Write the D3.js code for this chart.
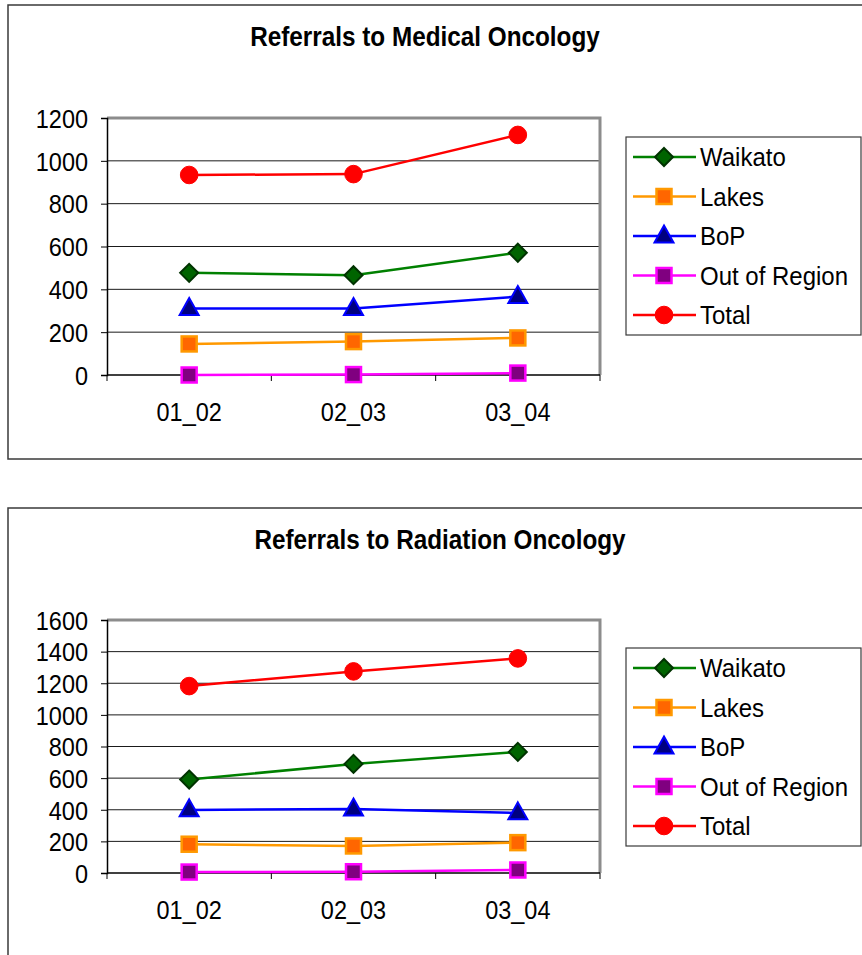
<!DOCTYPE html>
<html>
<head>
<meta charset="utf-8">
<script src="https://cdn.jsdelivr.net/npm/d3@7"></script>
<style>
  html, body { margin: 0; padding: 0; background: #fff; }
  svg { display: block; font-family: "Liberation Sans", Arial, sans-serif; }
</style>
</head>
<body>
<svg id="chart" width="862" height="955"></svg>
<script>
// Financial years on the category axis
const periods = ["01_02", "02_03", "03_04"];
const seriesNames = ["Waikato", "Lakes", "BoP", "Out of Region", "Total"];

// Referrals to Medical Oncology
const medWaikato = [477, 466, 571];
const medLakes = [145, 156, 173];
const medBoP = [310, 310, 366];
const medOut = [0, 2, 9];
const medTotal = [934, 938, 1121];
const medTicks = [0, 200, 400, 600, 800, 1000, 1200];

// Referrals to Radiation Oncology
const radWaikato = [591, 690, 766];
const radLakes = [182, 171, 192];
const radBoP = [399, 404, 380];
const radOut = [6, 8, 19];
const radTotal = [1182, 1275, 1357];
const radTicks = [0, 200, 400, 600, 800, 1000, 1200, 1400, 1600];

// Line and marker styling per series
const styles = {
  "Waikato":       { line: "#008000", fill: "#006400", stroke: "#003300", shape: "diamond" },
  "Lakes":         { line: "#FF9900", fill: "#FF6600", stroke: "#FF9900", shape: "square" },
  "BoP":           { line: "#0000FF", fill: "#000080", stroke: "#0000FF", shape: "triangle" },
  "Out of Region": { line: "#FF00FF", fill: "#800080", stroke: "#FF00FF", shape: "square" },
  "Total":         { line: "#FF0000", fill: "#FF0000", stroke: "#FF0000", shape: "circle" }
};

// Text is drawn slightly taller than wide, like the original chart renderer
const TEXT_STRETCH = 1.1;

const svg = d3.select("#chart");

function label(g, x, y, str, size, anchor, bold) {
  return g.append("text")
    .attr("transform", `translate(${x},${y}) scale(1,${TEXT_STRETCH})`)
    .attr("text-anchor", anchor)
    .attr("font-size", size)
    .attr("font-weight", bold ? "bold" : "normal")
    .attr("fill", "#000")
    .text(str);
}

function drawMarker(g, shape, cx, cy, st) {
  if (shape === "circle") {
    g.append("circle").attr("cx", cx).attr("cy", cy).attr("r", 8.8)
      .attr("fill", st.fill).attr("stroke", st.stroke).attr("stroke-width", 1);
  } else if (shape === "square") {
    g.append("rect").attr("x", cx - 7.5).attr("y", cy - 7.5).attr("width", 15).attr("height", 15)
      .attr("fill", st.fill).attr("stroke", st.stroke).attr("stroke-width", 2.5);
  } else if (shape === "diamond") {
    const r = 9;
    g.append("path").attr("d", `M${cx},${cy - r}L${cx + r},${cy}L${cx},${cy + r}L${cx - r},${cy}Z`)
      .attr("fill", st.fill).attr("stroke", st.stroke).attr("stroke-width", 2);
  } else if (shape === "triangle") {
    const h = 17, w = 19;
    g.append("path").attr("d", `M${cx},${cy - h * 0.62}L${cx + w / 2},${cy + h * 0.38}L${cx - w / 2},${cy + h * 0.38}Z`)
      .attr("fill", st.fill).attr("stroke", st.stroke).attr("stroke-width", 2);
  }
}

function drawChart(cfg) {
  const g = svg.append("g");

  // Chart frame (runs past the right and bottom of the page)
  g.append("rect")
    .attr("x", 8).attr("y", cfg.boxTop)
    .attr("width", 900).attr("height", cfg.boxHeight)
    .attr("fill", "#fff").attr("stroke", "#3a3a3a").attr("stroke-width", 1.5);

  label(g, cfg.titleX, cfg.boxTop + 41, cfg.title, 24.3, "middle", true);

  const left = 107, right = 600, top = cfg.plotTop, bottom = cfg.plotBottom;
  const x = d3.scaleBand().domain(periods).range([left, right]);
  const y = d3.scaleLinear().domain([0, d3.max(cfg.ticks)]).range([bottom, top]);

  // Horizontal gridlines
  g.append("g").selectAll("line")
    .data(cfg.ticks.slice(1, -1))
    .join("line")
    .attr("x1", left).attr("x2", right)
    .attr("y1", d => y(d)).attr("y2", d => y(d))
    .attr("stroke", "#1a1a1a").attr("stroke-width", 1);

  // Plot area top and right edges
  g.append("path")
    .attr("d", `M${left},${top}H${right}V${bottom}`)
    .attr("fill", "none").attr("stroke", "#8c8c8c").attr("stroke-width", 3);

  // Value axis
  const yAxis = d3.axisLeft(y).tickValues(cfg.ticks).tickSize(6).tickPadding(13).tickFormat(d3.format("d"));
  const ya = g.append("g").attr("transform", `translate(${left},0)`).call(yAxis);
  ya.select(".domain").attr("stroke", "#000").attr("stroke-width", 1.5);
  ya.selectAll(".tick line").attr("stroke", "#000").attr("stroke-width", 1);
  ya.selectAll(".tick text")
    .attr("font-size", 23.5).attr("font-family", "Liberation Sans, Arial, sans-serif")
    .attr("fill", "#000").attr("dy", "0.36em")
    .attr("transform", `scale(1,${TEXT_STRETCH})`);

  // Category axis with ticks between categories
  const boundaries = [left, ...periods.map(p => x(p) + x.bandwidth())];
  g.append("line").attr("x1", left).attr("x2", right).attr("y1", bottom).attr("y2", bottom)
    .attr("stroke", "#000").attr("stroke-width", 1.5);
  g.append("g").selectAll("line").data(boundaries).join("line")
    .attr("x1", d => d).attr("x2", d => d)
    .attr("y1", bottom).attr("y2", bottom + 6)
    .attr("stroke", "#000").attr("stroke-width", 1);
  const xl = g.append("g");
  periods.forEach(p => label(xl, x(p) + x.bandwidth() / 2, bottom + 46, p, 23.5, "middle", false));

  // Series lines and markers
  const line = d3.line()
    .x((d, i) => x(periods[i]) + x.bandwidth() / 2)
    .y(d => y(d));
  cfg.series.forEach((vals, si) => {
    const name = seriesNames[si];
    const st = styles[name];
    const sg = g.append("g");
    sg.append("path").datum(vals).attr("d", line)
      .attr("fill", "none").attr("stroke", st.line).attr("stroke-width", 2.5)
      .attr("stroke-linejoin", "round");
    vals.forEach((v, i) => drawMarker(sg, st.shape, x(periods[i]) + x.bandwidth() / 2, y(v), st));
  });

  // Legend
  const lg = g.append("g");
  lg.append("rect")
    .attr("x", 626).attr("y", cfg.legendTop)
    .attr("width", 235).attr("height", 198)
    .attr("fill", "#fff").attr("stroke", "#3a3a3a").attr("stroke-width", 1.2);
  seriesNames.forEach((name, i) => {
    const st = styles[name];
    const cy = cfg.legendTop + 20 + i * 39.5;
    lg.append("line").attr("x1", 633).attr("x2", 696).attr("y1", cy).attr("y2", cy)
      .attr("stroke", st.line).attr("stroke-width", 2.5);
    drawMarker(lg, st.shape, 664, cy, st);
    label(lg, 700, cy + 9.3, name, 24, "start", false);
  });
}

drawChart({
  title: "Referrals to Medical Oncology",
  titleX: 425,
  boxTop: 5, boxHeight: 454,
  plotTop: 118, plotBottom: 375,
  legendTop: 137,
  ticks: medTicks,
  series: [medWaikato, medLakes, medBoP, medOut, medTotal]
});

drawChart({
  title: "Referrals to Radiation Oncology",
  titleX: 440,
  boxTop: 508, boxHeight: 500,
  plotTop: 620, plotBottom: 873,
  legendTop: 648,
  ticks: radTicks,
  series: [radWaikato, radLakes, radBoP, radOut, radTotal]
});
</script>
</body>
</html>
